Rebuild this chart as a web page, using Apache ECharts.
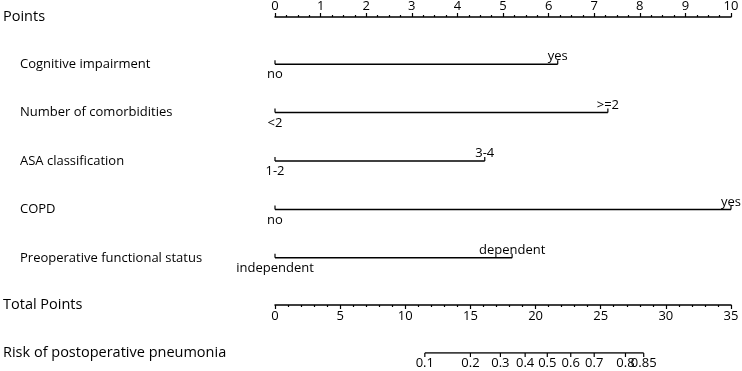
<!DOCTYPE html>
<html>
<head>
<meta charset="utf-8">
<script src="https://cdn.jsdelivr.net/npm/echarts@6/dist/echarts.min.js"></script>
<style>
  html, body { margin: 0; padding: 0; background: #fff; }
  #chart { width: 742px; height: 371px; }
</style>
</head>
<body>
<div id="chart"></div>
<script>
// nomogram rows
const rowNames = ['Cognitive impairment', 'Number of comorbidities', 'ASA classification', 'COPD', 'Preoperative functional status'];
const lowLevels = ['no', '<2', '1-2', 'no', 'independent'];
const highLevels = ['yes', '>=2', '3-4', 'yes', 'dependent'];
const highPoints = [6.2, 7.3, 4.6, 10, 5.2];

// risk scale, read against the total points axis
const riskLabels = ['0.1', '0.2', '0.3', '0.4', '0.5', '0.6', '0.7', '0.8', '0.85'];
const riskTotalPoints = [11.5, 15.0, 17.3, 19.2, 20.9, 22.7, 24.5, 26.9, 28.3];

const FONT = 'Open Sans';
const INK = '#000';
const LEFT = 275, RIGHT = 11;

const chart = echarts.init(document.getElementById('chart'));

const hidden = { show: false };

function nameStyle() {
  return { fontFamily: FONT, fontSize: 14.5, color: INK, align: 'left', verticalAlign: 'middle' };
}

chart.setOption({
  animation: false,
  textStyle: { fontFamily: FONT, color: INK },
  grid: [
    { left: LEFT, right: RIGHT, top: 16, height: 10 },       // points
    { left: LEFT, right: RIGHT, top: 40, height: 242 },      // rows
    { left: LEFT, right: RIGHT, top: 295, height: 10 },      // total points
    { left: LEFT, right: RIGHT, top: 343, height: 10 }       // risk
  ],
  xAxis: [
    {
      gridIndex: 0, type: 'value', position: 'top', min: 0, max: 10, interval: 1,
      name: 'Points', nameLocation: 'start', nameGap: 272, nameTextStyle: nameStyle(),
      axisLine: { onZero: false, lineStyle: { color: INK, width: 1.5 } },
      axisTick: { length: 4, lineStyle: { color: INK, width: 1.2 } },
      minorTick: { show: true, splitNumber: 4, length: 2, lineStyle: { color: INK, width: 1.2 } },
      axisLabel: { margin: 4, fontSize: 13, color: INK, fontFamily: FONT },
      splitLine: hidden
    },
    {
      gridIndex: 1, type: 'value', min: 0, max: 10,
      axisLine: hidden, axisTick: hidden, axisLabel: hidden, splitLine: hidden
    },
    {
      gridIndex: 2, type: 'value', position: 'bottom', min: 0, max: 35, interval: 5,
      name: 'Total Points', nameLocation: 'start', nameGap: 272, nameTextStyle: nameStyle(),
      axisLine: { onZero: false, lineStyle: { color: INK, width: 1.5 } },
      axisTick: { length: 4, lineStyle: { color: INK, width: 1.2 } },
      minorTick: { show: true, splitNumber: 5, length: 2, lineStyle: { color: INK, width: 1.2 } },
      axisLabel: { margin: 5, fontSize: 13, color: INK, fontFamily: FONT },
      splitLine: hidden
    },
    {
      gridIndex: 3, type: 'value', position: 'bottom', min: 0, max: 35,
      name: 'Risk of postoperative pneumonia', nameLocation: 'start', nameGap: 272, nameTextStyle: nameStyle(),
      axisLine: { show: false, onZero: false },
      axisTick: hidden, axisLabel: hidden, splitLine: hidden
    }
  ],
  yAxis: [
    { gridIndex: 0, type: 'value', show: false },
    {
      gridIndex: 1, type: 'category', data: rowNames, inverse: true,
      axisLine: hidden, axisTick: hidden, splitLine: hidden,
      axisLabel: { align: 'left', margin: 255, fontSize: 13, color: INK, fontFamily: FONT }
    },
    { gridIndex: 2, type: 'value', show: false },
    { gridIndex: 3, type: 'value', min: 0, max: 1, show: false }
  ],
  series: [
    {
      type: 'custom',
      xAxisIndex: 1, yAxisIndex: 1,
      clip: false,
      data: highPoints.map((p, i) => [i, p]),
      renderItem: (params, api) => {
        const row = api.value(0);
        const p0 = api.coord([0, row]);
        const p1 = api.coord([api.value(1), row]);
        const stroke = { stroke: INK, lineWidth: 1.5 };
        const tickStyle = { stroke: INK, lineWidth: 1.2 };
        const font = { fontFamily: FONT, fontSize: 13, fill: INK, align: 'center' };
        return {
          type: 'group',
          children: [
            { type: 'line', shape: { x1: p0[0], y1: p0[1], x2: p1[0], y2: p1[1] }, style: stroke },
            { type: 'line', shape: { x1: p0[0], y1: p0[1], x2: p0[0], y2: p0[1] - 4 }, style: tickStyle },
            { type: 'line', shape: { x1: p1[0], y1: p1[1], x2: p1[0], y2: p1[1] - 4 }, style: tickStyle },
            { type: 'text', x: p0[0], y: p0[1] + 4, style: Object.assign({ text: lowLevels[row], verticalAlign: 'top' }, font) },
            { type: 'text', x: p1[0], y: p1[1] - 1, style: Object.assign({ text: highLevels[row], verticalAlign: 'bottom' }, font) }
          ]
        };
      }
    },
    {
      type: 'line',
      xAxisIndex: 3, yAxisIndex: 3,
      data: [[riskTotalPoints[0], 0], [riskTotalPoints[riskTotalPoints.length - 1], 0]],
      symbol: 'none',
      lineStyle: { color: INK, width: 1.5 }
    },
    {
      // risk ticks and labels at their total-points positions
      type: 'custom',
      xAxisIndex: 3, yAxisIndex: 3,
      clip: false,
      data: riskTotalPoints.map((p, i) => [p, 0, i]),
      renderItem: (params, api) => {
        const pt = api.coord([api.value(0), api.value(1)]);
        return {
          type: 'group',
          children: [
            { type: 'line', shape: { x1: pt[0], y1: pt[1], x2: pt[0], y2: pt[1] + 4 }, style: { stroke: INK, lineWidth: 1.2 } },
            { type: 'text', x: pt[0], y: pt[1] + 4, style: { text: riskLabels[api.value(2)], fontFamily: FONT, fontSize: 13, fill: INK, align: 'center', verticalAlign: 'top' } }
          ]
        };
      }
    }
  ]
});
</script>
</body>
</html>
